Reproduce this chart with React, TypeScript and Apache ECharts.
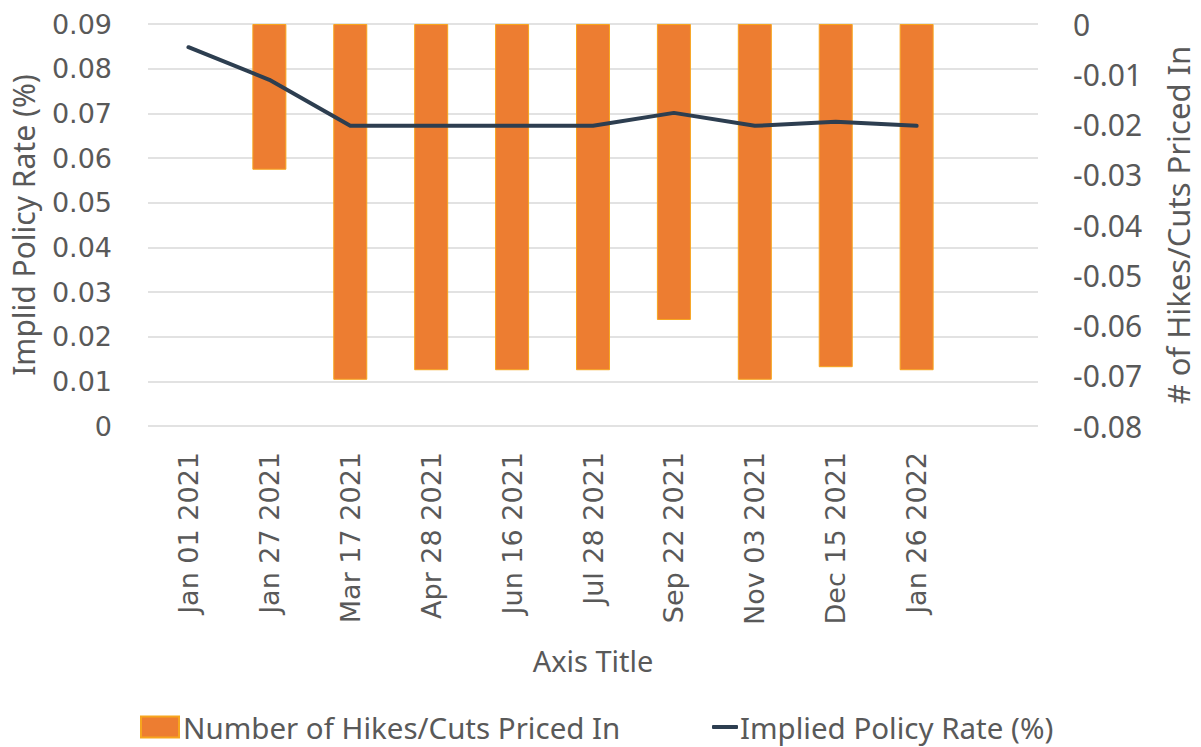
import React, { useEffect, useRef } from "react";
import * as echarts from "echarts";

const dates = [
  "Jan 01 2021",
  "Jan 27 2021",
  "Mar 17 2021",
  "Apr 28 2021",
  "Jun 16 2021",
  "Jul 28 2021",
  "Sep 22 2021",
  "Nov 03 2021",
  "Dec 15 2021",
  "Jan 26 2022",
];
const hikesCuts: (number | null)[] = [
  null, -0.029, -0.0708, -0.0689, -0.0689, -0.0689, -0.0589, -0.0708, -0.0683, -0.0689,
];
const impliedRate = [
  0.0848, 0.0775, 0.0672, 0.0672, 0.0672, 0.0672, 0.0701, 0.0672, 0.0681, 0.0672,
];
const leftTicks = { min: 0, max: 0.09, interval: 0.01 };
const rightTicks = { min: -0.08, max: 0, interval: 0.01 };

const barName = "Number of Hikes/Cuts Priced In";
const lineName = "Implied Policy Rate (%)";

const TXT = "#595959";
const TICK_FONT = "DejaVu Sans";
const TITLE_FONT = "Noto Sans";

const fmt = (v: number) => (Math.abs(v) < 1e-9 ? "0" : v.toFixed(2));

export default function App() {
  const ref = useRef<HTMLDivElement>(null);
  useEffect(() => {
    document.body.style.margin = "0";
    if (!ref.current) return;
    const chart = echarts.init(ref.current, null, { renderer: "svg" });
    const categories = [...dates, ""];
    chart.setOption({
      animation: false,
      backgroundColor: "#ffffff",
      grid: { left: 143, right: 154, top: 24, bottom: 321, containLabel: false },
      legend: [
        {
          left: 140,
          top: 712,
          padding: 0,
          itemWidth: 38,
          itemHeight: 21,
          itemGap: 0,
          data: [{ name: barName, icon: "rect" }],
          textStyle: { fontFamily: TITLE_FONT, fontSize: 29.5, lineHeight: 30, color: TXT, padding: [0, 0, 0, -1] },
        },
        {
          left: 712,
          top: 712,
          padding: 0,
          itemWidth: 26,
          itemHeight: 4,
          data: [{ name: lineName, icon: "roundRect" }],
          textStyle: { fontFamily: TITLE_FONT, fontSize: 29.5, lineHeight: 30, color: TXT, padding: [0, 0, 0, -3] },
        },
      ],
      xAxis: {
        type: "category",
        data: categories,
        boundaryGap: true,
        axisLine: { show: false },
        axisTick: { show: false },
        axisLabel: {
          interval: 0,
          rotate: 90,
          margin: 26,
          fontFamily: TICK_FONT,
          fontSize: 27,
          color: TXT,
        },
        name: "Axis Title",
        nameLocation: "middle",
        nameGap: 220,
        nameTextStyle: { fontFamily: TITLE_FONT, fontSize: 29, color: TXT, verticalAlign: "top" },
      },
      yAxis: [
        {
          type: "value",
          position: "left",
          ...leftTicks,
          alignTicks: false,
          axisLine: { show: false },
          axisTick: { show: false },
          splitLine: { show: true, lineStyle: { color: "#d9d9d9", width: 1.5 } },
          axisLabel: {
            margin: 36,
            fontFamily: TICK_FONT,
            fontSize: 27,
            color: TXT,
            formatter: fmt,
          },
          name: "Implid Policy Rate (%)",
          nameLocation: "middle",
          nameRotate: 90,
          nameGap: 110,
          nameTextStyle: { fontFamily: TITLE_FONT, fontSize: 30, color: TXT },
        },
        {
          type: "value",
          position: "right",
          ...rightTicks,
          alignTicks: false,
          axisLine: { show: false },
          axisTick: { show: false },
          splitLine: { show: false },
          axisLabel: {
            margin: 35,
            fontFamily: TITLE_FONT,
            fontSize: 30,
            color: TXT,
            formatter: fmt,
          },
          name: "# of Hikes/Cuts Priced In",
          nameLocation: "middle",
          nameRotate: 90,
          nameGap: 124,
          nameTextStyle: { fontFamily: TITLE_FONT, fontSize: 31, color: TXT, verticalAlign: "top" },
        },
      ],
      series: [
        {
          name: barName,
          type: "bar",
          yAxisIndex: 1,
          data: [...hikesCuts, null],
          barWidth: 34,
          itemStyle: { color: "#ED7D31", borderColor: "#F7A51E", borderWidth: 1 },
        },
        {
          name: lineName,
          type: "line",
          yAxisIndex: 0,
          data: [...impliedRate, null],
          symbol: "none",
          showSymbol: false,
          lineStyle: { color: "#2D3E50", width: 4, cap: "round", join: "round" },
          itemStyle: { color: "#2D3E50" },
        },
      ],
    });
    return () => chart.dispose();
  }, []);
  return <div ref={ref} style={{ width: 1201, height: 747 }} />;
}
